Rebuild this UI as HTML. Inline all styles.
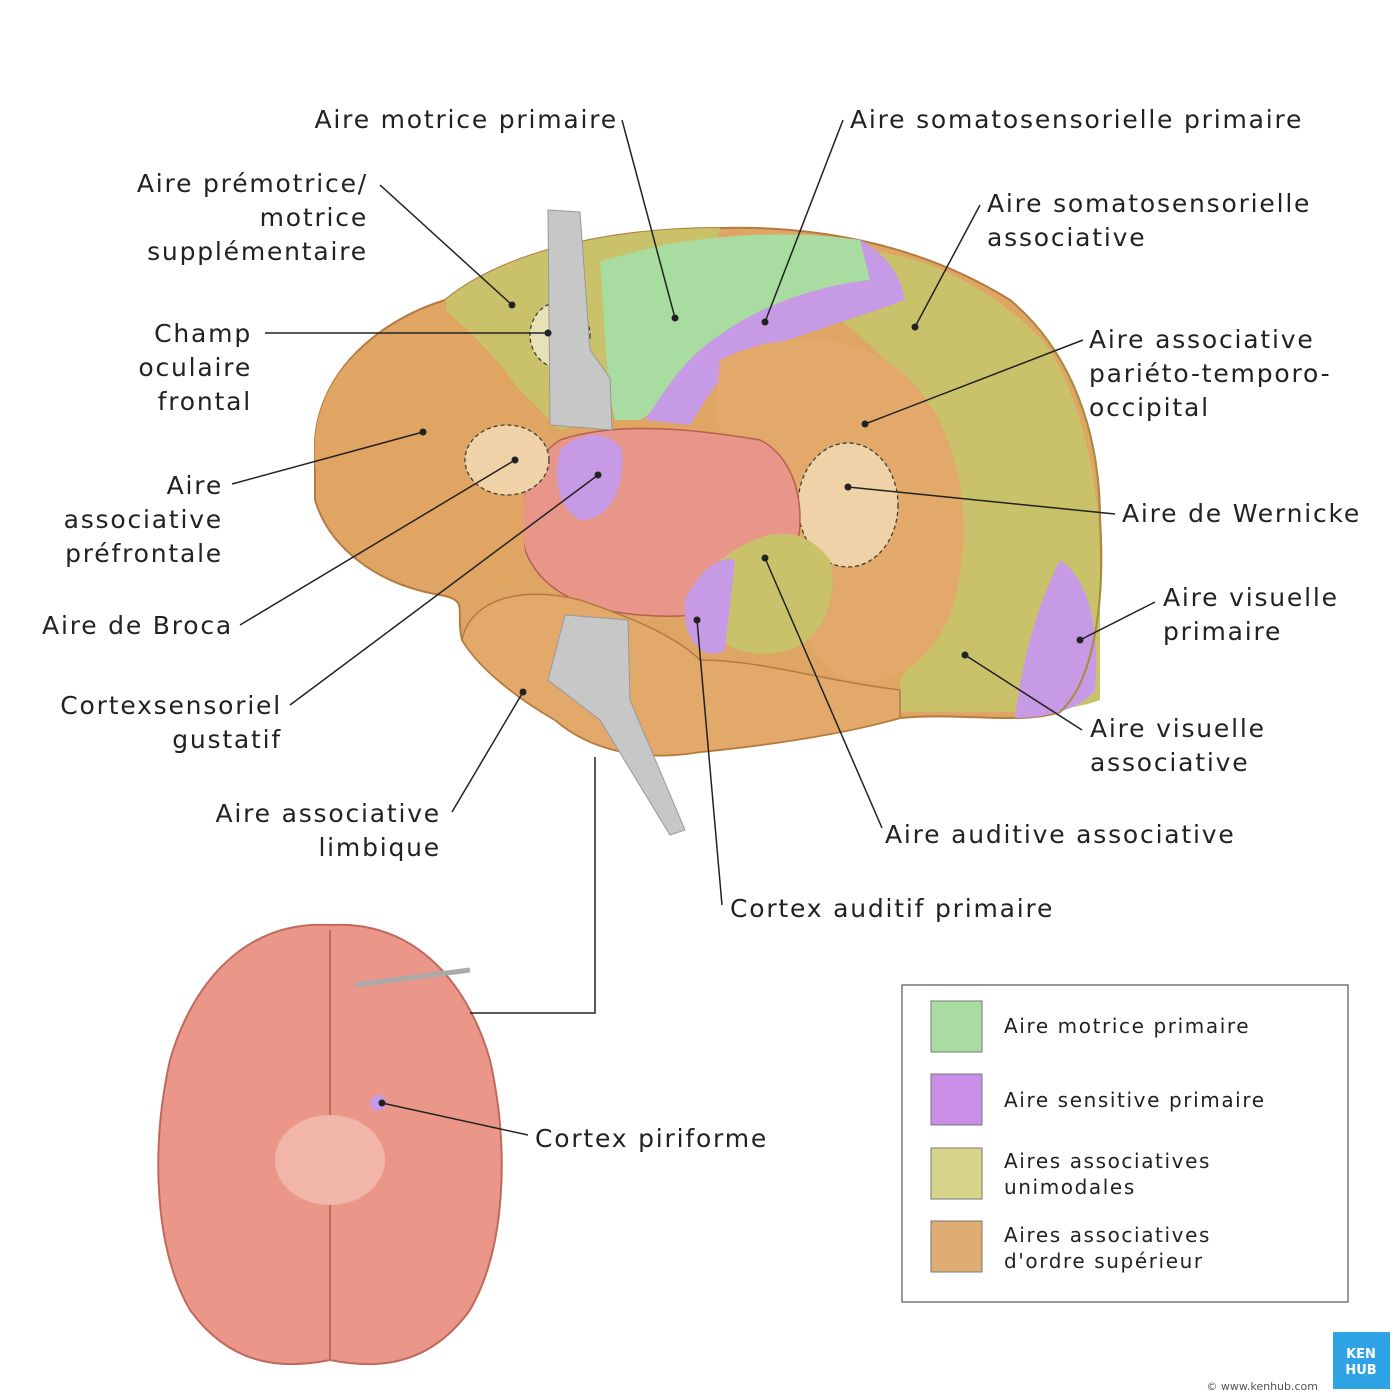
<!DOCTYPE html>
<html><head><meta charset="utf-8"><style>
html,body{margin:0;padding:0;background:#fff;}
svg{display:block}
text{font-family:"DejaVu Sans","Liberation Sans",sans-serif;fill:#222;}
.l{font-size:25px;letter-spacing:1.8px}
.g{font-size:20px;letter-spacing:1.6px}
</style></head><body>
<svg width="1400" height="1400" viewBox="0 0 1400 1400" xmlns="http://www.w3.org/2000/svg">
<rect width="1400" height="1400" fill="#fff"/>
<path d="M315,440 C320,370 380,320 445,300 C500,255 600,228 720,228 C830,225 930,250 1010,300 C1070,350 1100,430 1100,520 C1105,600 1095,680 1060,712 C1020,725 960,712 900,718 C840,735 770,745 700,752 C640,762 590,750 555,720 C520,700 480,670 462,640 C455,610 470,600 440,595 C380,585 330,550 315,500 Z" fill="#dfa565" stroke="#b57a3e" stroke-width="2"/>
<path d="M445,300 C500,255 600,228 720,228 L690,330 C640,380 600,420 560,430 C530,400 490,360 450,330 Z" fill="#c9c26a"/>
<path d="M850,250 C930,250 1010,300 1050,350 C1090,420 1100,500 1100,570 L1100,700 C1060,715 1000,712 900,712 L900,680 C940,620 960,540 950,470 C930,400 880,350 840,320 Z" fill="#c9c26a"/>
<path d="M600,262 C680,235 780,228 860,240 L870,280 C800,300 740,320 700,350 C670,380 660,410 640,420 L615,420 C605,380 605,320 600,262 Z" fill="#a8dca0"/>
<path d="M860,240 C880,250 900,270 905,300 C850,320 780,340 740,360 C715,380 700,410 690,425 L645,420 C660,400 680,360 720,335 C760,305 820,285 870,280 Z" fill="#c79ae6"/>
<path d="M720,360 C780,330 860,330 910,380 C960,430 975,520 955,600 C940,650 900,690 850,680 C800,660 790,600 800,530 C780,480 730,450 715,420 Z" fill="#e3a96a"/>
<ellipse cx="848" cy="505" rx="50" ry="62" fill="#efd2a8" stroke="#333" stroke-width="1.2" stroke-dasharray="4,3"/>
<path d="M560,440 C620,420 700,430 760,440 C800,460 810,520 790,570 C760,610 700,620 640,615 C580,610 540,590 525,550 C515,500 530,460 560,440 Z" fill="#e8968a" stroke="#b85e52" stroke-width="1.5"/>
<path d="M560,450 C580,430 610,430 622,450 C625,490 610,520 580,520 C560,510 552,480 560,450 Z" fill="#c79ae6"/>
<path d="M720,560 C760,530 800,520 830,560 C840,600 820,640 790,650 C750,660 720,650 710,620 Z" fill="#c9c26a"/>
<path d="M685,600 C700,570 720,555 735,560 L725,650 C710,660 690,650 685,620 Z" fill="#c79ae6"/>
<path d="M1060,560 C1090,580 1100,630 1095,690 C1080,710 1045,718 1015,718 C1020,680 1030,620 1060,560 Z" fill="#c79ae6"/>
<path d="M462,640 C470,600 520,585 580,600 C640,620 680,640 700,660 C760,660 820,680 900,690 L900,718 C840,735 770,745 700,752 C640,762 590,750 555,720 C520,700 480,670 462,640 Z" fill="#e3a96a" stroke="#b57a3e" stroke-width="1.5"/>
<path d="M315,440 C320,370 380,320 445,310 C480,340 520,380 540,430 C520,480 520,540 530,580 C470,590 400,590 340,540 C320,510 313,470 315,440 Z" fill="#e0a563"/>
<ellipse cx="507" cy="460" rx="42" ry="35" fill="#efd2a8" stroke="#333" stroke-width="1.2" stroke-dasharray="4,3"/>
<ellipse cx="560" cy="335" rx="30" ry="33" fill="#e5e2b8" stroke="#333" stroke-width="1.2" stroke-dasharray="4,3"/>
<path d="M1010,300 C1070,350 1100,430 1100,520 C1105,600 1095,680 1060,712" fill="none" stroke="#a88c3e" stroke-width="2"/>
<path d="M548,210 L580,212 L590,350 L610,378 L612,430 L550,425 Z" fill="#c7c7c7" stroke="#999"/>
<path d="M565,615 L628,620 L630,700 L685,830 L670,835 L600,720 L548,680 Z" fill="#c7c7c7" stroke="#999"/>
<path d="M330,925 C420,920 470,990 490,1060 C510,1150 505,1250 470,1310 C430,1365 380,1370 330,1360 C280,1370 230,1365 190,1310 C155,1250 150,1150 170,1060 C190,990 240,920 330,925 Z" fill="#ea978a" stroke="#c06a5e" stroke-width="2"/>
<path d="M330,930 L330,1360" stroke="#c06a5e" stroke-width="2"/>
<ellipse cx="330" cy="1160" rx="55" ry="45" fill="#f2b6a8"/>
<path d="M355,985 L470,970" stroke="#aaa" stroke-width="5"/>
<circle cx="378" cy="1103" r="8" fill="#c79ae6"/>
<g stroke="#222" stroke-width="1.5" fill="none">
<path d="M622,120 L675,318"/><path d="M843,120 L765,322"/><path d="M380,185 L512,305"/>
<path d="M265,333 L548,333"/><path d="M980,205 L915,327"/><path d="M1083,340 L865,424"/>
<path d="M232,484 L423,432"/><path d="M1115,514 L848,487"/><path d="M240,625 L515,460"/>
<path d="M290,705 L598,475"/><path d="M1155,602 L1080,640"/><path d="M1082,730 L965,655"/>
<path d="M452,812 L523,692"/><path d="M882,828 L765,558"/><path d="M722,905 L697,620"/>
<path d="M528,1135 L382,1103"/><path d="M470,1013 L595,1013 L595,757"/>
</g>
<g fill="#222">
<circle cx="675" cy="318" r="3.5"/><circle cx="765" cy="322" r="3.5"/><circle cx="512" cy="305" r="3.5"/>
<circle cx="548" cy="333" r="3.5"/><circle cx="915" cy="327" r="3.5"/><circle cx="865" cy="424" r="3.5"/>
<circle cx="423" cy="432" r="3.5"/><circle cx="848" cy="487" r="3.5"/><circle cx="515" cy="460" r="3.5"/>
<circle cx="598" cy="475" r="3.5"/><circle cx="1080" cy="640" r="3.5"/><circle cx="965" cy="655" r="3.5"/>
<circle cx="523" cy="692" r="3.5"/><circle cx="765" cy="558" r="3.5"/><circle cx="697" cy="620" r="3.5"/>
<circle cx="382" cy="1103" r="3.5"/>
</g>
<g class="l">
<text x="618" y="128" text-anchor="end">Aire motrice primaire</text>
<text x="850" y="128">Aire somatosensorielle primaire</text>
<text x="368" y="192" text-anchor="end">Aire prémotrice/</text>
<text x="368" y="226" text-anchor="end">motrice</text>
<text x="368" y="260" text-anchor="end">supplémentaire</text>
<text x="987" y="212">Aire somatosensorielle</text>
<text x="987" y="246">associative</text>
<text x="252" y="342" text-anchor="end">Champ</text>
<text x="252" y="376" text-anchor="end">oculaire</text>
<text x="252" y="410" text-anchor="end">frontal</text>
<text x="1089" y="348">Aire associative</text>
<text x="1089" y="382">pariéto-temporo-</text>
<text x="1089" y="416">occipital</text>
<text x="223" y="494" text-anchor="end">Aire</text>
<text x="223" y="528" text-anchor="end">associative</text>
<text x="223" y="562" text-anchor="end">préfrontale</text>
<text x="1122" y="522">Aire de Wernicke</text>
<text x="233" y="634" text-anchor="end">Aire de Broca</text>
<text x="1163" y="606">Aire visuelle</text>
<text x="1163" y="640">primaire</text>
<text x="282" y="714" text-anchor="end">Cortexsensoriel</text>
<text x="282" y="748" text-anchor="end">gustatif</text>
<text x="1090" y="737">Aire visuelle</text>
<text x="1090" y="771">associative</text>
<text x="441" y="822" text-anchor="end">Aire associative</text>
<text x="441" y="856" text-anchor="end">limbique</text>
<text x="885" y="843">Aire auditive associative</text>
<text x="730" y="917">Cortex auditif primaire</text>
<text x="535" y="1147">Cortex piriforme</text>
</g>
<rect x="902" y="985" width="446" height="317" fill="#fff" stroke="#555" stroke-width="1.2"/>
<rect x="931" y="1001" width="51" height="51" fill="#a8dca0" stroke="#777"/>
<rect x="931" y="1074" width="51" height="51" fill="#c88ee8" stroke="#777"/>
<rect x="931" y="1148" width="51" height="51" fill="#d8d48a" stroke="#777"/>
<rect x="931" y="1221" width="51" height="51" fill="#dfad72" stroke="#777"/>
<g class="g">
<text x="1004" y="1033">Aire motrice primaire</text>
<text x="1004" y="1107">Aire sensitive primaire</text>
<text x="1004" y="1168">Aires associatives</text>
<text x="1004" y="1194">unimodales</text>
<text x="1004" y="1242">Aires associatives</text>
<text x="1004" y="1268">d'ordre supérieur</text>
</g>
<rect x="1333" y="1332" width="57" height="57" fill="#2ea3e6"/>
<text x="1361" y="1358" text-anchor="middle" style="font-size:13px;font-weight:bold;fill:#fff">KEN</text>
<text x="1361" y="1374" text-anchor="middle" style="font-size:13px;font-weight:bold;fill:#fff">HUB</text>
<text x="1318" y="1390" text-anchor="end" style="font-size:11px;fill:#555">© www.kenhub.com</text>
</svg>
</body></html>
